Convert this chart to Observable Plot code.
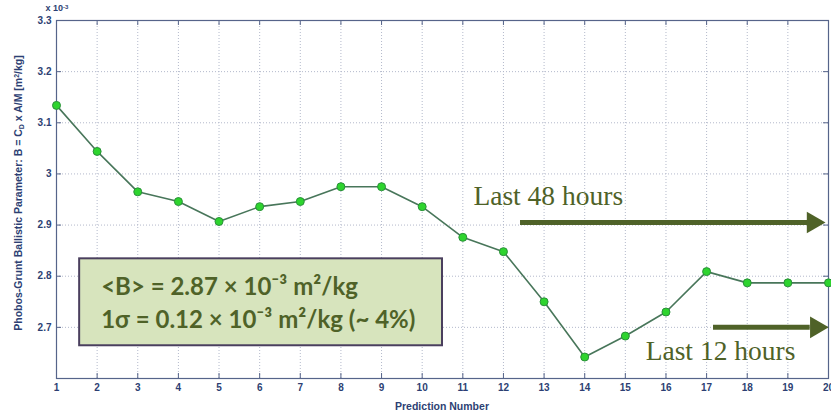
<!DOCTYPE html>
<html>
<head>
<meta charset="utf-8">
<script src="https://cdn.jsdelivr.net/npm/d3@7"></script>
<script src="https://cdn.jsdelivr.net/npm/@observablehq/plot@0.6"></script>
<style>
  html, body { margin: 0; padding: 0; background: #fff; }
  #chart svg { display: block; }
</style>
</head>
<body>
<div id="chart"></div>
<script>
// ---- data ----
const predictionNumbers = [1,2,3,4,5,6,7,8,9,10,11,12,13,14,15,16,17,18,19,20];
const ballisticValues = [3.134,3.044,2.965,2.946,2.907,2.936,2.946,2.975,2.975,2.936,2.876,2.848,2.750,2.642,2.683,2.730,2.809,2.787,2.787,2.787];
const xTicks = predictionNumbers;
const yTicks = [2.7,2.8,2.9,3.0,3.1,3.2,3.3];
const yTickLabels = ["2.7","2.8","2.9","3","3.1","3.2","3.3"];
const xGrid = [2,3,4,5,6,7,8,9,10,11,12,13,14,15,16,17,18,19];
const yGrid = [2.7,2.8,2.9,3.0,3.1,3.2];
// annotations (data units)
const statsBox = [{x1: 1.57, x2: 10.5, y1: 2.664, y2: 2.834}];
const statsLines = [
  {x: 2.1, y: 2.779, text: "<B> = 2.87 × 10⁻³ m²/kg"},
  {x: 2.1, y: 2.713, text: "1σ = 0.12 × 10⁻³ m²/kg (~ 4%)"}
];
const arrowLabels = [
  {x: 11.26, y: 2.957, text: "Last 48 hours"},
  {x: 15.5, y: 2.654, text: "Last 12 hours"}
];
const arrowShafts = [
  {x1: 12.42, x2: 19.5, y: 2.905},
  {x1: 17.17, x2: 19.55, y: 2.700}
];
const arrowHeads = [
  {x: 19.62, y: 2.905},
  {x: 19.7, y: 2.700}
];

const data = predictionNumbers.map((n, i) => ({n, b: ballisticValues[i]}));
const axisColor = "#2d3f73";
const olive = "#4f6228";
const W = 831, H = 417;
const mT = 20, mB = 39;
const innerH = H - mT - mB;

const chart = Plot.plot({
  width: W,
  height: H,
  marginLeft: 56,
  marginRight: 3,
  marginTop: mT,
  marginBottom: mB,
  style: {fontFamily: "Liberation Sans, Arial, sans-serif", background: "#fff"},
  x: {domain: [1, 20], axis: null},
  y: {domain: [2.6, 3.3], axis: null},
  marks: [
    Plot.ruleX(xGrid, {stroke: "#b3b9cb", strokeDasharray: "1,2", strokeWidth: 1}),
    Plot.ruleY(yGrid, {stroke: "#b3b9cb", strokeDasharray: "1,2", strokeWidth: 1}),
    Plot.frame({stroke: "#56648a", strokeWidth: 1.2}),
    Plot.tickX(xTicks, {x: d => d, insetTop: innerH - 5, stroke: "#56648a"}),
    Plot.tickX(xTicks, {x: d => d, insetBottom: innerH - 5, stroke: "#56648a"}),
    Plot.tickY(yTicks, {y: d => d, insetRight: 772 - 5, stroke: "#56648a"}),
    Plot.tickY(yTicks, {y: d => d, insetLeft: 772 - 5, stroke: "#56648a"}),
    Plot.axisX(xTicks, {tickSize: 0, tickPadding: 5, fill: axisColor, fontSize: 10, fontWeight: "bold", label: null, tickFormat: d => String(d)}),
    Plot.axisY(yTicks, {tickSize: 0, tickPadding: 5, fill: axisColor, fontSize: 10, fontWeight: "bold", label: null, tickFormat: (d, i) => yTickLabels[i]}),
    Plot.line(data, {x: "n", y: "b", stroke: "#48765a", strokeWidth: 1.6}),
    Plot.dot(data, {x: "n", y: "b", r: 4, fill: "#2ed42e", stroke: "#2a8f3a", strokeWidth: 1}),
    Plot.rect(statsBox, {x1: "x1", x2: "x2", y1: "y1", y2: "y2", fill: "#d7e4bd", stroke: "#4a3f5e", strokeWidth: 2}),
    Plot.text(statsLines, {x: "x", y: "y", text: "text", textAnchor: "start", fill: olive, fontSize: 24, fontWeight: "bold", fontFamily: "Lato, Open Sans, sans-serif"}),
    Plot.text(arrowLabels, {x: "x", y: "y", text: "text", textAnchor: "start", fill: olive, fontSize: 27.5, fontFamily: "Liberation Serif, DejaVu Serif, serif"}),
    Plot.ruleY(arrowShafts, {x1: "x1", x2: "x2", y: "y", stroke: olive, strokeWidth: 5}),
    Plot.dot(arrowHeads, {x: "x", y: "y", symbol: "triangle", rotate: 90, r: 8, fill: olive, stroke: "none"})
  ]
});

const svg = d3.select(chart);
// y-axis label with subscript / superscript
const yl = svg.append("text")
  .attr("transform", "translate(22," + (mT + innerH / 2 - 6) + ") rotate(-90)")
  .attr("text-anchor", "middle")
  .attr("fill", axisColor)
  .attr("font-size", 10.5)
  .attr("font-weight", "bold")
  .attr("font-family", "Liberation Sans, Arial, sans-serif");
yl.append("tspan").text("Phobos-Grunt Ballistic Parameter: B = C");
yl.append("tspan").attr("baseline-shift", "-30%").attr("font-size", 7).text("D");
yl.append("tspan").text(" x A/M [m");
yl.append("tspan").attr("baseline-shift", "40%").attr("font-size", 7).text("2");
yl.append("tspan").text("/kg]");
// x-axis label
svg.append("text")
  .attr("x", (56 + W - 3) / 2).attr("y", 410)
  .attr("text-anchor", "middle")
  .attr("fill", axisColor)
  .attr("font-size", 10.5)
  .attr("font-weight", "bold")
  .attr("font-family", "Liberation Sans, Arial, sans-serif")
  .text("Prediction Number");
// exponent label
const ex = svg.append("text")
  .attr("x", 57).attr("y", 11)
  .attr("fill", axisColor)
  .attr("font-size", 9)
  .attr("font-weight", "bold")
  .attr("font-family", "Liberation Sans, Arial, sans-serif");
ex.append("tspan").text("x 10");
ex.append("tspan").attr("baseline-shift", "40%").attr("font-size", 6).text("-3");

document.getElementById("chart").append(chart);
</script>
</body>
</html>
